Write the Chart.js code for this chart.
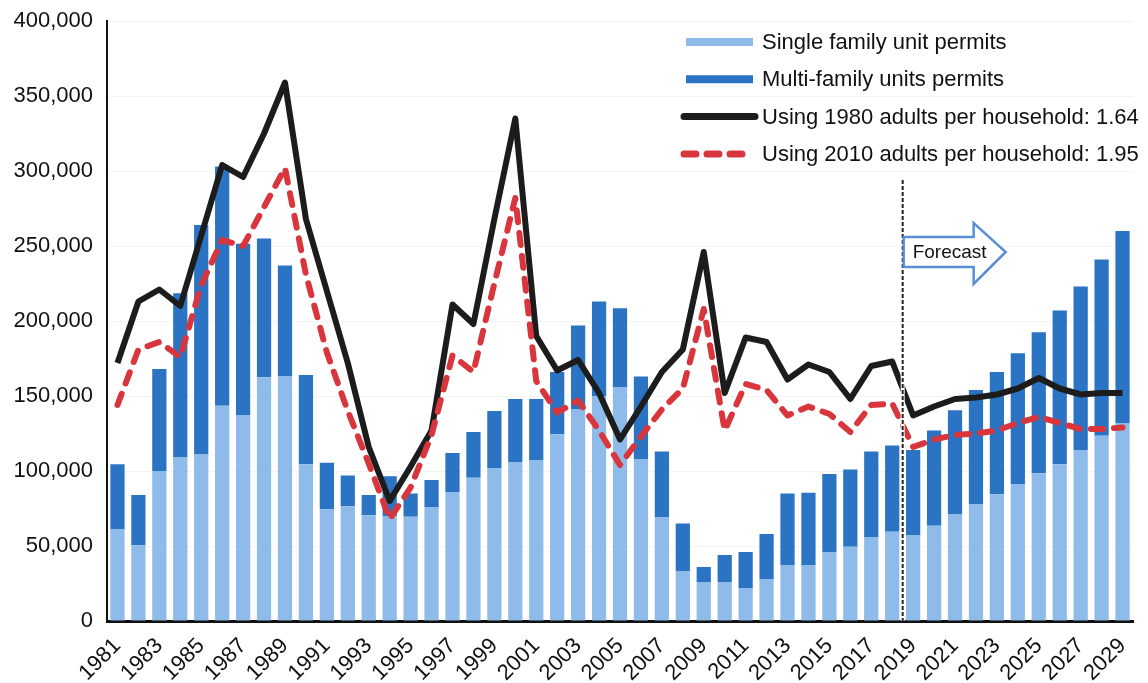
<!DOCTYPE html>
<html>
<head>
<meta charset="utf-8">
<script src="https://cdn.jsdelivr.net/npm/chart.js@4/dist/chart.umd.min.js"></script>
<style>
  body { margin: 0; background: #fff; }
  #wrap { width: 1148px; height: 683px; position: relative; }
</style>
</head>
<body>
<div id="wrap"><canvas id="permitsChart"></canvas></div>
<script>
// years 1981 - 2029
const years = [];
for (let y = 1981; y <= 2029; y++) years.push(String(y));

// thousands of units
const singleFamily = [61, 50.5, 100, 109, 111, 143.5, 137, 162.5, 163, 104.5,
  74.5, 76.5, 70.5, 70, 69.5, 76, 86, 95.5, 102, 106,
  107, 124.5, 141, 150, 156, 108, 69, 33, 26, 26,
  22, 28, 37, 37, 46, 49.5, 56, 59.5, 57, 63.5,
  71, 78, 84.5, 91, 98.5, 104.5, 114, 123.5, 132];

const multiFamily = [43.5, 33.5, 68, 109.5, 153, 159.5, 114.5, 92.5, 74, 59.5,
  31, 20.5, 13.5, 26.5, 15.5, 18, 26, 30.5, 38, 42,
  41, 41.5, 56, 63, 52.5, 55, 44, 32, 10, 18,
  24, 30, 48, 48.5, 52, 51.5, 57, 57.5, 57, 63.5,
  69.5, 76, 81.5, 87.5, 94, 102.5, 109, 117.5, 128];

const using1980 = [172, 213, 221, 210, 257, 304, 296, 325, 359, 268,
  220, 172, 116, 80, 103, 127, 211, 198, 268, 335,
  190, 167, 174, 152, 121, 143, 166, 181, 246, 152,
  189, 186, 161, 171, 166, 148, 170, 173, 137, 143,
  148, 149, 151, 155, 162, 155, 151, 152, 152];

const using2010 = [144, 181, 186, 176, 224, 254, 250, 276, 302, 231,
  179, 140, 105, 68, 89, 124, 177, 166, 225, 282,
  160, 139, 147, 127, 104, 123, 141, 155, 208, 127,
  158, 154, 137, 143, 138, 126, 144, 145, 116, 121,
  124, 125, 127, 132, 136, 132, 128, 128, 129];

const yTicks = [0, 50000, 100000, 150000, 200000, 250000, 300000, 350000, 400000];
const forecastStart = '2019';

const k = arr => arr.map(v => v * 1000);
const FONT = "'Liberation Sans', Arial, sans-serif";
const INK = '#111';

// legend drawn inside the plot, top right
const insideLegend = {
  id: 'insideLegend',
  afterDraw(chart) {
    const ctx = chart.ctx;
    const x0 = 684, x1 = 753, tx = 762;
    let y = 42;
    ctx.save();
    chart.data.datasets.forEach(ds => {
      ctx.beginPath();
      if (ds.type === 'line') {
        ctx.strokeStyle = ds.borderColor;
        ctx.lineWidth = 7;
        ctx.lineCap = 'round';
        ctx.setLineDash(ds.borderDash || []);
        ctx.moveTo(x0, y);
        ctx.lineTo(ds.borderDash ? x1 - 4 : x1 + 2, y);
      } else {
        ctx.strokeStyle = ds.backgroundColor;
        ctx.lineWidth = 8;
        ctx.lineCap = 'butt';
        ctx.setLineDash([]);
        ctx.moveTo(x0 + 2, y);
        ctx.lineTo(x1, y);
      }
      ctx.stroke();
      ctx.setLineDash([]);
      ctx.fillStyle = INK;
      ctx.font = '22px ' + FONT;
      ctx.textBaseline = 'middle';
      ctx.textAlign = 'left';
      ctx.fillText(ds.label, tx, y + 1);
      y += 37.3;
    });
    ctx.restore();
  }
};

// dashed divider + Forecast arrow
const forecastMark = {
  id: 'forecastMark',
  afterDatasetsDraw(chart) {
    const ctx = chart.ctx;
    const xs = chart.scales.x, ys = chart.scales.y;
    const i = years.indexOf(forecastStart);
    const x = (xs.getPixelForValue(i) + xs.getPixelForValue(i - 1)) / 2;
    ctx.save();
    ctx.beginPath();
    ctx.strokeStyle = '#fff';
    ctx.lineWidth = 4;
    ctx.moveTo(x, 180);
    ctx.lineTo(x, ys.bottom);
    ctx.stroke();
    ctx.beginPath();
    ctx.strokeStyle = '#222';
    ctx.lineWidth = 2;
    ctx.setLineDash([4, 2]);
    ctx.moveTo(x, 180);
    ctx.lineTo(x, ys.bottom);
    ctx.stroke();
    ctx.setLineDash([]);

    // arrow
    const left = x + 1, top = 237, bot = 267, headX = x + 71, tipX = x + 103;
    const midY = (top + bot) / 2;
    ctx.beginPath();
    ctx.moveTo(left, top);
    ctx.lineTo(headX, top);
    ctx.lineTo(headX, 223);
    ctx.lineTo(tipX, midY);
    ctx.lineTo(headX, 284);
    ctx.lineTo(headX, bot);
    ctx.lineTo(left, bot);
    ctx.closePath();
    ctx.fillStyle = '#fff';
    ctx.fill();
    ctx.strokeStyle = '#5b8fd3';
    ctx.lineWidth = 2.5;
    ctx.stroke();
    ctx.fillStyle = INK;
    ctx.font = '19px ' + FONT;
    ctx.textBaseline = 'middle';
    ctx.fillText('Forecast', left + 9, midY + 1);
    ctx.restore();
  }
};

new Chart(document.getElementById('permitsChart'), {
  type: 'bar',
  data: {
    labels: years,
    datasets: [
      {
        label: 'Single family unit permits',
        data: k(singleFamily),
        backgroundColor: '#8ebbe9',
        stack: 'permits',
        order: 3,
        barPercentage: 0.68,
        categoryPercentage: 1.0
      },
      {
        label: 'Multi-family units permits',
        data: k(multiFamily),
        backgroundColor: '#2b74c3',
        stack: 'permits',
        order: 3,
        barPercentage: 0.68,
        categoryPercentage: 1.0
      },
      {
        type: 'line',
        label: 'Using 1980 adults per household: 1.64',
        data: k(using1980),
        borderColor: '#1c1c1c',
        borderWidth: 6,
        pointRadius: 0,
        tension: 0,
        borderJoinStyle: 'round',
        stack: 'l1980',
        order: 2
      },
      {
        type: 'line',
        label: 'Using 2010 adults per household: 1.95',
        data: k(using2010),
        borderColor: '#d8363c',
        borderWidth: 6,
        borderDash: [12, 11],
        borderCapStyle: 'round',
        pointRadius: 0,
        tension: 0,
        borderJoinStyle: 'round',
        stack: 'l2010',
        order: 1
      }
    ]
  },
  options: {
    responsive: true,
    maintainAspectRatio: false,
    animation: false,
    layout: { padding: { top: 21, right: 15, left: 0, bottom: 0 } },
    plugins: {
      legend: { display: false },
      tooltip: { enabled: false }
    },
    scales: {
      x: {
        stacked: true,
        grid: { display: false },
        border: { color: INK, width: 3 },
        ticks: {
          autoSkip: false,
          minRotation: 45,
          maxRotation: 45,
          padding: 4,
          color: INK,
          font: { family: FONT, size: 22 },
          callback: (v, i) => (i % 2 === 0 ? years[i] : '')
        },
        afterFit: s => { s.height = 62; }
      },
      y: {
        stacked: true,
        min: 0,
        max: 400000,
        afterBuildTicks: s => { s.ticks = yTicks.map(v => ({ value: v })); },
        grid: {
          color: c => (c.tick && c.tick.value === 0 ? 'rgba(0,0,0,0)' : '#f4f4f4'),
          drawTicks: false
        },
        border: { color: INK, width: 2 },
        ticks: {
          padding: 14,
          color: INK,
          font: { family: FONT, size: 22 },
          callback: v => v.toLocaleString('en-US')
        },
        afterFit: s => { s.width = 107; s.paddingTop = 0; }
      }
    }
  },
  plugins: [forecastMark, insideLegend]
});
</script>
</body>
</html>
